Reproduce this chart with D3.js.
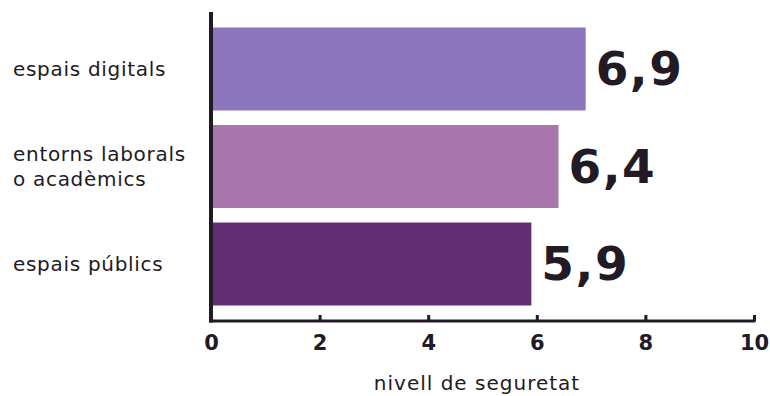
<!DOCTYPE html>
<html><head><meta charset="utf-8">
<script src="https://cdn.jsdelivr.net/npm/d3@7"></script>
<style>body{margin:0;background:#fff;}svg{display:block;}</style>
</head><body>
<script>
const categories = ["espais digitals", "entorns laborals\no acadèmics", "espais públics"];
const values = [6.9, 6.4, 5.9];
const valueLabels = ["6,9", "6,4", "5,9"];
const colors = ["#8b76bd", "#a776aa", "#612e74"];
const ticks = [0, 2, 4, 6, 8, 10];
const axisTitle = "nivell de seguretat";

const W = 770, H = 396;
const ink = "#221a24";
const svg = d3.select("body").append("svg").attr("width", W).attr("height", H);

const x = d3.scaleLinear().domain([0, 10]).range([211, 754]);
const y = d3.scaleBand().domain(categories).range([27.5, 305.5]).paddingInner(0.149).paddingOuter(0);

// bars
svg.selectAll("rect.bar").data(categories).join("rect")
  .attr("class", "bar")
  .attr("x", x(0))
  .attr("y", d => y(d))
  .attr("width", (d, i) => x(values[i]) - x(0))
  .attr("height", y.bandwidth())
  .attr("fill", (d, i) => colors[i]);

// value labels
svg.selectAll("text.val").data(categories).join("text")
  .attr("class", "val")
  .attr("x", (d, i) => x(values[i]) + 10)
  .attr("y", d => y(d) + y.bandwidth() / 2 + 16)
  .attr("font-family", "DejaVu Sans")
  .attr("font-weight", "bold")
  .attr("font-size", 47)
  .attr("letter-spacing", 1.5)
  .attr("fill", ink)
  .text((d, i) => valueLabels[i]);

// category labels
svg.selectAll("text.cat").data(categories).join("text")
  .attr("class", "cat")
  .attr("font-family", "DejaVu Sans")
  .attr("font-size", 20)
  .attr("letter-spacing", 0.7)
  .attr("fill", ink)
  .each(function(d) {
    const lines = d.split("\n");
    const cy = y(d) + y.bandwidth() / 2;
    const lh = 25;
    const t = d3.select(this);
    lines.forEach((ln, j) => {
      t.append("tspan").attr("x", 13)
        .attr("y", cy + 7 + (j - (lines.length - 1) / 2) * lh)
        .text(ln);
    });
  });

// x axis
const xAxis = d3.axisBottom(x).tickValues(ticks).tickSize(0).tickPadding(0).tickFormat(d3.format("d"));
const gx = svg.append("g").attr("transform", "translate(0,321)").call(xAxis);
gx.select(".domain").remove();
gx.selectAll(".tick text")
  .attr("y", 29)
  .attr("dy", 0)
  .attr("font-family", "DejaVu Sans")
  .attr("font-weight", "bold")
  .attr("font-size", 21)
  .attr("fill", ink);
gx.selectAll(".tick").filter(d => d > 0).append("line")
  .attr("y1", 0).attr("y2", -6)
  .attr("stroke", ink).attr("stroke-width", 3);
svg.append("line").attr("x1", x(0) - 2).attr("x2", x(10) + 1.5).attr("y1", 321).attr("y2", 321)
  .attr("stroke", ink).attr("stroke-width", 3);

// y axis line
svg.append("line").attr("x1", x(0)).attr("x2", x(0)).attr("y1", 12).attr("y2", 322.5)
  .attr("stroke", ink).attr("stroke-width", 4);

// axis title
svg.append("text")
  .attr("x", 477).attr("y", 390)
  .attr("text-anchor", "middle")
  .attr("font-family", "DejaVu Sans")
  .attr("font-size", 20)
  .attr("letter-spacing", 1.0)
  .attr("fill", ink)
  .text(axisTitle);
</script>
</body></html>
